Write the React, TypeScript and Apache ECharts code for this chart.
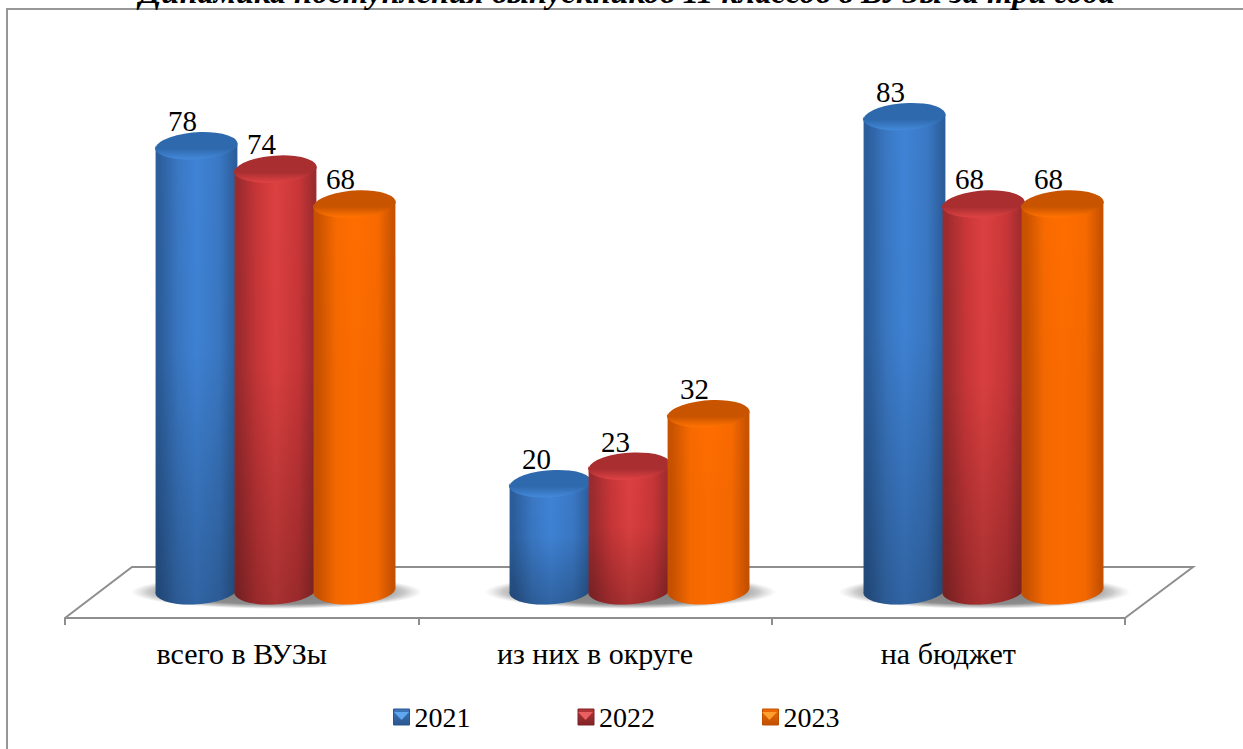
import React, { useEffect, useRef } from "react";
import * as echarts from "echarts";

const categories = ["всего в ВУЗы", "из них в округе", "на бюджет"];
const years = ["2021", "2022", "2023"];
const values2021 = [78, 20, 83];
const values2022 = [74, 23, 68];
const values2023 = [68, 32, 68];
const titleText = "Динамика поступления выпускников 11 классов в ВУЗы за три года";

const FONT = '"Liberation Serif", "Times New Roman", serif';
const RX = 41;
const RY = 14;
const TILT_DEG = -3.5;
const BASE_LIFT = 10.5;

const palettes = [
  { center: "#3f83d6", mid: "#3a78c4", edge: "#2c5e9c", capDark: "#2f69ad", capLight: "#4288d8", dark: 0.24, swatch: ["#3f78bd", "#2a568e"], tri: "#5fa8f0" },
  { center: "#dc4040", mid: "#c93638", edge: "#9c2b2e", capDark: "#a82e30", capLight: "#dd4143", dark: 0.24, swatch: ["#b93638", "#7f2326"], tri: "#ea5f5f" },
  { center: "#ff6d00", mid: "#f86a00", edge: "#c85200", capDark: "#c95400", capLight: "#ff7200", dark: 0.02, swatch: ["#f26a05", "#c05000"], tri: "#ffa030" },
];
const offsets = [-79, 0, 79];

const lg = (x2: number, y2: number, stops: [number, string][]) =>
  new echarts.graphic.LinearGradient(0, 0, x2, y2, stops.map(([offset, color]) => ({ offset, color })));

function cylinderSeries(name: string, values: number[], k: number) {
  const p = palettes[k];
  return {
    type: "custom",
    name,
    xAxisIndex: 1,
    yAxisIndex: 1,
    z: 3 + k,
    itemStyle: { color: p.center },
    data: values.map((v, i) => [i, v]),
    renderItem(_: any, api: any) {
      const pt = api.coord([api.value(0), api.value(1)]);
      const zero = api.coord([api.value(0), 0]);
      const cx = pt[0] + offsets[k];
      const t = (TILT_DEG * Math.PI) / 180;
      const dx = RX * Math.cos(t);
      const dy = RX * Math.sin(t);
      const topY = pt[1];
      const baseY = zero[1] - BASE_LIFT;
      const arc = `A ${RX} ${RY} ${TILT_DEG} 0`;
      const side = `M ${cx - dx} ${topY - dy} L ${cx - dx} ${baseY - dy} ${arc} 0 ${cx + dx} ${baseY + dy} L ${cx + dx} ${topY + dy} Z`;
      const cap = `M ${cx - dx} ${topY - dy} ${arc} 1 ${cx + dx} ${topY + dy} ${arc} 1 ${cx - dx} ${topY - dy} Z`;
      return {
        type: "group",
        children: [
          {
            type: "path",
            shape: { pathData: side },
            style: {
              fill: lg(1, 0, [
                [0, p.edge],
                [0.05, p.edge],
                [0.28, p.mid],
                [0.5, p.center],
                [0.78, p.mid],
                [0.97, p.edge],
                [1, p.edge],
              ]),
            },
          },
          {
            type: "path",
            shape: { pathData: side },
            style: {
              fill: lg(0, 1, [
                [0, "rgba(0,0,0,0)"],
                [0.45, "rgba(0,0,0,0.02)"],
                [1, `rgba(0,0,0,${p.dark})`],
              ]),
            },
          },
          {
            type: "path",
            shape: { pathData: cap },
            style: {
              fill: lg(0, 1, [
                [0, p.capDark],
                [0.6, p.capDark],
                [0.97, p.capLight],
                [1, p.capLight],
              ]),
            },
          },
          {
            type: "text",
            x: cx - 14,
            y: topY - RY - 10,
            style: {
              text: String(api.value(1)),
              font: `29px ${FONT}`,
              fill: "#000",
              align: "center",
              verticalAlign: "middle",
            },
          },
        ],
      };
    },
  };
}

const shadowSeries = {
  type: "custom",
  name: "shadow",
  xAxisIndex: 1,
  yAxisIndex: 1,
  z: 2,
  silent: true,
  data: categories.map((_, i) => [i, 0]),
  renderItem(_: any, api: any) {
    const p = api.coord([api.value(0), api.value(1)]);
    return {
      type: "ellipse",
      shape: { cx: p[0] + 1, cy: p[1] - 7.5, rx: 146, ry: 17 },
      style: {
        fill: new echarts.graphic.RadialGradient(0.5, 0.5, 0.5, [
          { offset: 0, color: "rgba(110,110,110,0.9)" },
          { offset: 0.72, color: "rgba(120,120,120,0.85)" },
          { offset: 0.88, color: "rgba(150,150,150,0.5)" },
          { offset: 1, color: "rgba(180,180,180,0)" },
        ]),
      },
    };
  },
};

export default function App() {
  const ref = useRef<HTMLDivElement>(null);
  useEffect(() => {
    const chart = echarts.init(ref.current!, undefined, { renderer: "svg" });
    const swatchX = [393, 577, 761];
    chart.setOption({
      animation: false,
      backgroundColor: "#fff",
      title: {
        text: titleText,
        left: 627,
        textAlign: "center",
        top: -25,
        padding: 0,
        textStyle: { fontFamily: FONT, fontSize: 32.5, fontWeight: "bold", fontStyle: "italic", color: "#000" },
      },
      legend: {
        left: 393,
        top: 703,
        data: years.map((name, k) => ({
          name,
          icon: "rect",
          itemStyle: { color: lg(0, 1, [[0, palettes[k].swatch[0]], [1, palettes[k].swatch[1]]]), borderColor: palettes[k].swatch[1], borderWidth: 1 },
        })),
        selectedMode: false,
        itemWidth: 16,
        itemHeight: 16,
        itemGap: 107,
        padding: 0,
        textStyle: { fontFamily: FONT, fontSize: 28, color: "#000" },
      },
      grid: [
        { left: 65, right: 118, top: 100, bottom: 131 },
        { left: 98.5, right: 82.5, top: 75.25, bottom: 149.5 },
      ],
      xAxis: [
        {
          gridIndex: 0,
          type: "category",
          data: categories,
          boundaryGap: true,
          axisLine: { show: true, lineStyle: { color: "#8e8e8e", width: 2 } },
          axisTick: { show: true, alignWithLabel: false, interval: 0, length: 7, lineStyle: { color: "#8e8e8e", width: 2 } },
          axisLabel: { fontFamily: FONT, fontSize: 30, color: "#000", margin: 20, interval: 0 },
        },
        { gridIndex: 1, type: "category", data: categories, show: false },
      ],
      yAxis: [
        { gridIndex: 0, type: "value", show: false, splitLine: { show: false } },
        { gridIndex: 1, type: "value", min: 0, max: 90, show: false, splitLine: { show: false } },
      ],
      graphic: [
        {
          type: "polyline",
          z: 0,
          silent: true,
          shape: { points: [[7, 749], [7, 9], [1243, 9]] },
          style: { stroke: "#979797", lineWidth: 2, fill: "none" },
        },
        {
          type: "polyline",
          z: 0,
          silent: true,
          shape: { points: [[65, 618], [132, 567], [1193, 567], [1125, 618]] },
          style: { stroke: "#8e8e8e", lineWidth: 2, fill: "none" },
        },
        ...swatchX.map((x, k) => ({
          type: "polygon",
          z: 10,
          silent: true,
          shape: { points: [[x + 1, 712], [x + 16, 712], [x + 8.5, 720]] },
          style: { fill: palettes[k].tri },
        })),
      ],
      series: [
        shadowSeries,
        cylinderSeries(years[0], values2021, 0),
        cylinderSeries(years[1], values2022, 1),
        cylinderSeries(years[2], values2023, 2),
      ],
    });
    return () => chart.dispose();
  }, []);
  return <div ref={ref} style={{ position: "absolute", left: 0, top: 0, width: 1243, height: 749 }} />;
}
